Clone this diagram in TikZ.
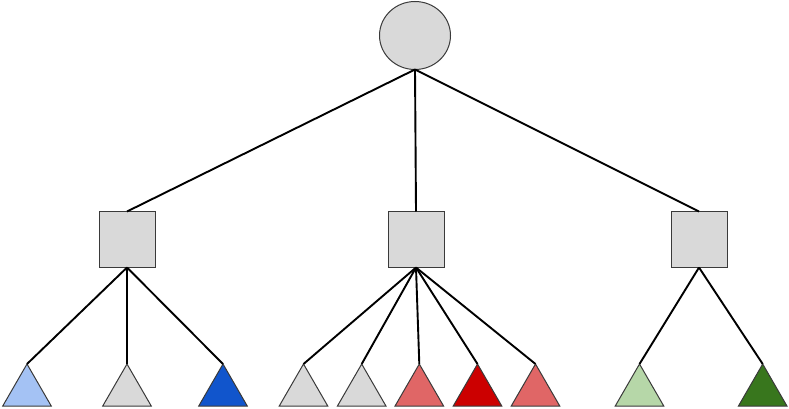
\documentclass[tikz,border=0pt]{standalone}
\usetikzlibrary{shapes.geometric}
\definecolor{shapefill}{HTML}{D9D9D9}
\definecolor{shapeborder}{HTML}{3A3A3A}
\definecolor{lblue}{HTML}{A4C2F4}
\definecolor{dblue}{HTML}{1155CC}
\definecolor{lred}{HTML}{E06666}
\definecolor{dred}{HTML}{CC0000}
\definecolor{lgreen}{HTML}{B6D7A8}
\definecolor{dgreen}{HTML}{38761D}
\tikzset{
  rootnode/.style={ellipse, draw=shapeborder, fill=shapefill, line width=1pt, minimum width=71pt, minimum height=68pt, inner sep=0pt, outer sep=0pt},
  boxnode/.style={rectangle, draw=shapeborder, fill=shapefill, line width=1pt, minimum size=56pt, inner sep=0pt, outer sep=0pt},
  leaf/.style={regular polygon, regular polygon sides=3, draw=shapeborder, fill=#1, line width=1pt, minimum size=56pt, inner sep=0pt, outer sep=0pt, anchor=corner 1},
  conn/.style={line width=1.9pt, black}
}
\begin{document}
\begin{tikzpicture}[x=1pt, y=-1pt]
\useasboundingbox (0,0) rectangle (789,409);
\node[rootnode] (root) at (415,35.5) {};
\node[boxnode] (b1) at (127,239.5) {};
\node[boxnode] (b2) at (416,239.5) {};
\node[boxnode] (b3) at (699,239.5) {};
\node[leaf=lblue] (t1) at (27,364) {};
\node[leaf=shapefill] (t2) at (127,364) {};
\node[leaf=dblue] (t3) at (223,364) {};
\node[leaf=shapefill] (t4) at (303.5,364) {};
\node[leaf=shapefill] (t5) at (361.7,364) {};
\node[leaf=lred] (t6) at (419.3,364) {};
\node[leaf=dred] (t7) at (477.5,364) {};
\node[leaf=lred] (t8) at (535.5,364) {};
\node[leaf=lgreen] (t9) at (639.5,364) {};
\node[leaf=dgreen] (t10) at (762.7,364) {};
\draw[conn] (root.south) -- (b1.north);
\draw[conn] (root.south) -- (b2.north);
\draw[conn] (root.south) -- (b3.north);
\foreach \t in {t1,t2,t3} \draw[conn] (b1.south) -- (\t.corner 1);
\foreach \t in {t4,t5,t6,t7,t8} \draw[conn] (b2.south) -- (\t.corner 1);
\foreach \t in {t9,t10} \draw[conn] (b3.south) -- (\t.corner 1);
\end{tikzpicture}
\end{document}
